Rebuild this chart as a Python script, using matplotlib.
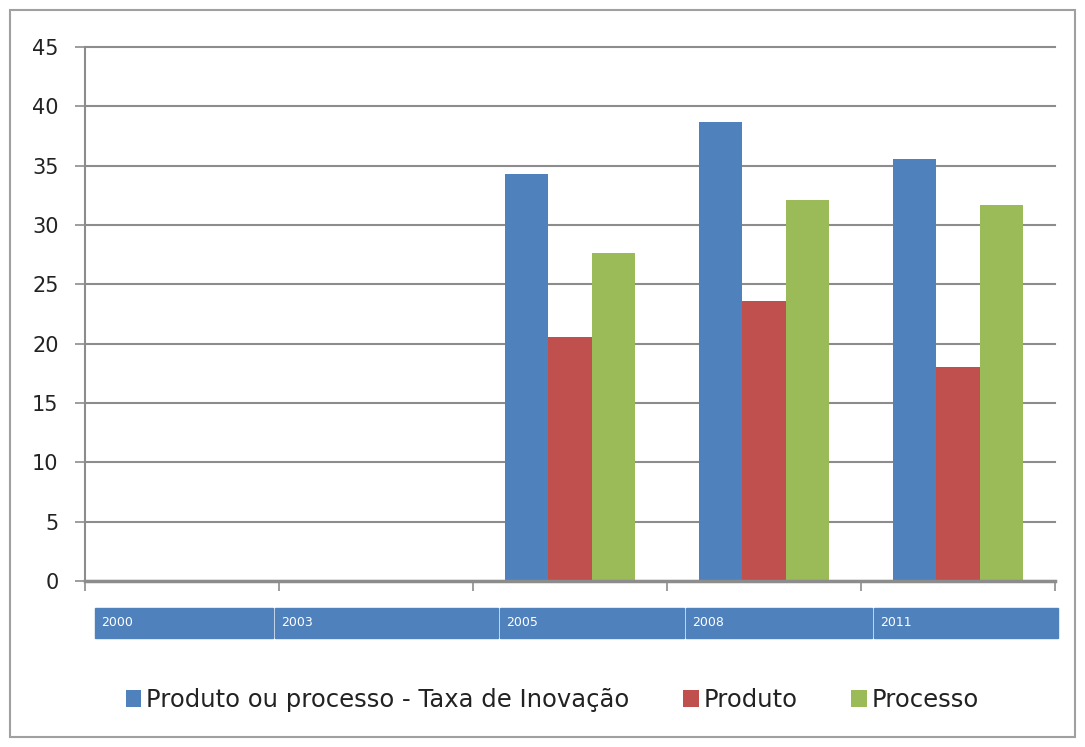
import numpy as np
import matplotlib
matplotlib.use("Agg")
import matplotlib.pyplot as plt
from matplotlib.patches import Rectangle

# data
years = ["2000", "2003", "2005", "2008", "2011"]
taxa = [np.nan, np.nan, 34.3, 38.7, 35.6]
produto = [np.nan, np.nan, 20.6, 23.6, 18.0]
processo = [np.nan, np.nan, 27.6, 32.1, 31.7]
series_names = ["Produto ou processo - Taxa de Inovação", "Produto", "Processo"]
colors = ["#4F81BD", "#C0504D", "#9BBB59"]

plt.rcParams['font.family'] = ['DejaVu Sans']

W, H = 1085, 747
fig = plt.figure(figsize=(W / 100, H / 100), dpi=100)

# outer chart frame
fig.patches.append(Rectangle((10 / W, 1 - 737 / H), 1065 / W, 727 / H,
                             transform=fig.transFigure, fill=False,
                             edgecolor="#a0a0a0", linewidth=1.5))

ax = fig.add_axes([85 / W, 1 - 581 / H, 970 / W, 534 / H])

x = np.arange(len(years))
bw = 0.222
for i, (vals, name, c) in enumerate(zip([taxa, produto, processo], series_names, colors)):
    ax.bar(x + (i - 1) * bw, vals, width=bw, color=c, label=name, zorder=3)

ax.set_xlim(-0.5, len(years) - 0.5)
ax.set_ylim(0, 45)
ax.set_yticks(np.arange(0, 46, 5))
ax.yaxis.grid(True, color="#8c8c8c", linewidth=1.5, zorder=0)
for gl in ax.get_ygridlines():
    gl.set_clip_on(False)
ax.tick_params(axis="y", length=7, width=1.2, color="#8c8c8c",
               labelsize=15, labelcolor="#222222", pad=12)

# category boundary ticks, no labels (years are shown in the band below)
ax.set_xticks(np.arange(len(years) + 1) - 0.5)
ax.set_xticklabels([])
ax.tick_params(axis="x", length=7, width=1.2, color="#8c8c8c")

for s in ["top", "right"]:
    ax.spines[s].set_visible(False)
ax.spines["left"].set_color("#8c8c8c")
ax.spines["left"].set_linewidth(1.5)
ax.spines["bottom"].set_color("#8c8c8c")
ax.spines["bottom"].set_linewidth(2.5)
ax.spines["bottom"].set_zorder(4)

# blue band with the year labels
edges = [95, 275, 500, 686, 874, 1060]
y0, y1 = 1 - 638 / H, 1 - 608 / H
for k, yr in enumerate(years):
    x0, x1 = edges[k], edges[k + 1]
    fig.patches.append(Rectangle((x0 / W, y0), (x1 - x0 - 2) / W, y1 - y0,
                                 transform=fig.transFigure, color="#4F81BD"))
    fig.text((x0 + 6) / W, (y0 + y1) / 2, yr, color="white", fontsize=9,
             va="center", ha="left")

fig.legend(loc="center", bbox_to_anchor=(0.509, 1 - 700 / H), ncol=3,
           frameon=False, fontsize=17.5, handlelength=0.65, handleheight=0.65,
           handletextpad=0.2, columnspacing=2.2, labelcolor="#222222")

fig.savefig("out.png", dpi=100)
